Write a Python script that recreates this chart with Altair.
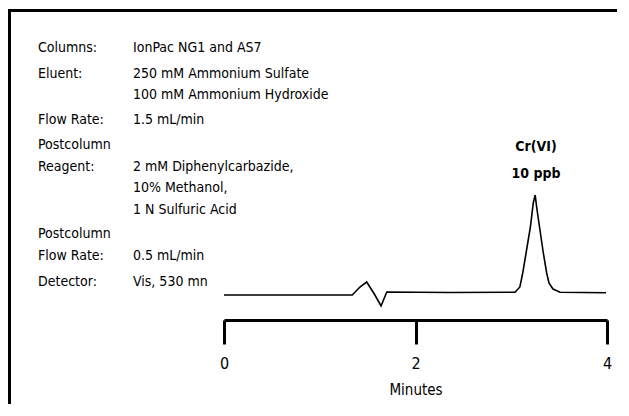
import altair as alt
import pandas as pd

# ---- data -------------------------------------------------------------
minutes = [0.00, 1.34, 1.42, 1.49, 1.57, 1.64, 1.70, 2.36, 3.04, 3.09, 3.12,
           3.16, 3.20, 3.23, 3.25, 3.265, 3.30, 3.335, 3.37, 3.394, 3.436,
           3.51, 3.99]
signal = [0.0, 0.0, 8.0, 13.0, 1.0, -11.0, 3.0, 2.5, 2.7, 8.0, 22.0,
          45.0, 68.0, 92.0, 100.0, 88.0, 65.0, 42.0, 22.0, 12.0, 6.0,
          2.7, 2.3]

info_labels = ["Columns:", "Eluent:", "", "Flow Rate:", "Postcolumn",
               "Reagent:", "", "", "Postcolumn", "Flow Rate:", "Detector:"]
info_values = ["IonPac NG1 and AS7", "250 mM Ammonium Sulfate",
               "100 mM Ammonium Hydroxide", "1.5 mL/min", "",
               "2 mM Diphenylcarbazide,", "10% Methanol,",
               "1 N Sulfuric Acid", "", "0.5 mL/min", "Vis, 530 mn"]
peak_label = ["Cr(VI)", "10 ppb"]
x_ticks = [0, 2, 4]

# ---- layout -----------------------------------------------------------
FONT = "DejaVu Sans Condensed, Liberation Sans Narrow, sans-serif"
PLOT_LEFT, PLOT_TOP = 224, 140   # page coords of plot origin
row_y = [48, 74, 95, 120, 145, 167, 188, 210, 234, 256, 282]

df = pd.DataFrame({"Minutes": minutes, "Signal": signal})

line = alt.Chart(df).mark_line(color="black", strokeWidth=1.6).encode(
    x=alt.X("Minutes:Q",
            scale=alt.Scale(domain=[0, 4], nice=False, zero=False),
            axis=alt.Axis(values=x_ticks, format="d", title="Minutes",
                          domainColor="black", domainWidth=3,
                          tickColor="black", tickWidth=3, tickSize=24,
                          labelFont=FONT, labelFontSize=16, labelColor="black",
                          labelPadding=11, labelAngle=0, labelFlush=False,
                          titleFont=FONT, titleFontSize=15,
                          titleFontWeight="normal", titleColor="black",
                          titlePadding=11, grid=False)),
    y=alt.Y("Signal:Q", scale=alt.Scale(domain=[-25, 155], nice=False,
                                          zero=False), axis=None),
)

layers = [line]
base = alt.Chart(pd.DataFrame({"a": [0]}))

for lab, val, yy in zip(info_labels, info_values, row_y):
    ry = yy - PLOT_TOP
    if lab:
        layers.append(base.mark_text(align="left", baseline="middle",
                                     font=FONT, fontSize=14, color="black")
                      .encode(x=alt.value(38 - PLOT_LEFT), y=alt.value(ry),
                              text=alt.value(lab)))
    if val:
        layers.append(base.mark_text(align="left", baseline="middle",
                                     font=FONT, fontSize=14, color="black")
                      .encode(x=alt.value(133 - PLOT_LEFT), y=alt.value(ry),
                              text=alt.value(val)))

for txt, yy in zip(peak_label, [146.5, 174]):
    layers.append(base.mark_text(align="center", baseline="middle",
                                 font=FONT, fontSize=14, fontWeight="bold",
                                 color="black")
                  .encode(x=alt.value(536 - PLOT_LEFT), y=alt.value(yy - PLOT_TOP),
                          text=alt.value(txt)))

# frame (top and left borders)
layers.append(base.mark_rule(color="black", strokeWidth=3).encode(
    x=alt.value(8 - PLOT_LEFT), x2=alt.value(617 - PLOT_LEFT),
    y=alt.value(10.5 - PLOT_TOP)))
layers.append(base.mark_rule(color="black", strokeWidth=3).encode(
    x=alt.value(9.5 - PLOT_LEFT), y=alt.value(9 - PLOT_TOP),
    y2=alt.value(404 - PLOT_TOP)))

chart = alt.layer(*layers).properties(
    width=383, height=180,
    autosize=alt.AutoSizeParams(type="none"),
    padding={"left": PLOT_LEFT - 8, "top": PLOT_TOP - 8, "right": 10,
             "bottom": 84},
    background="white",
).configure_view(stroke=None)

chart.save("out.html", embed_options={"renderer": "svg", "actions": False})
